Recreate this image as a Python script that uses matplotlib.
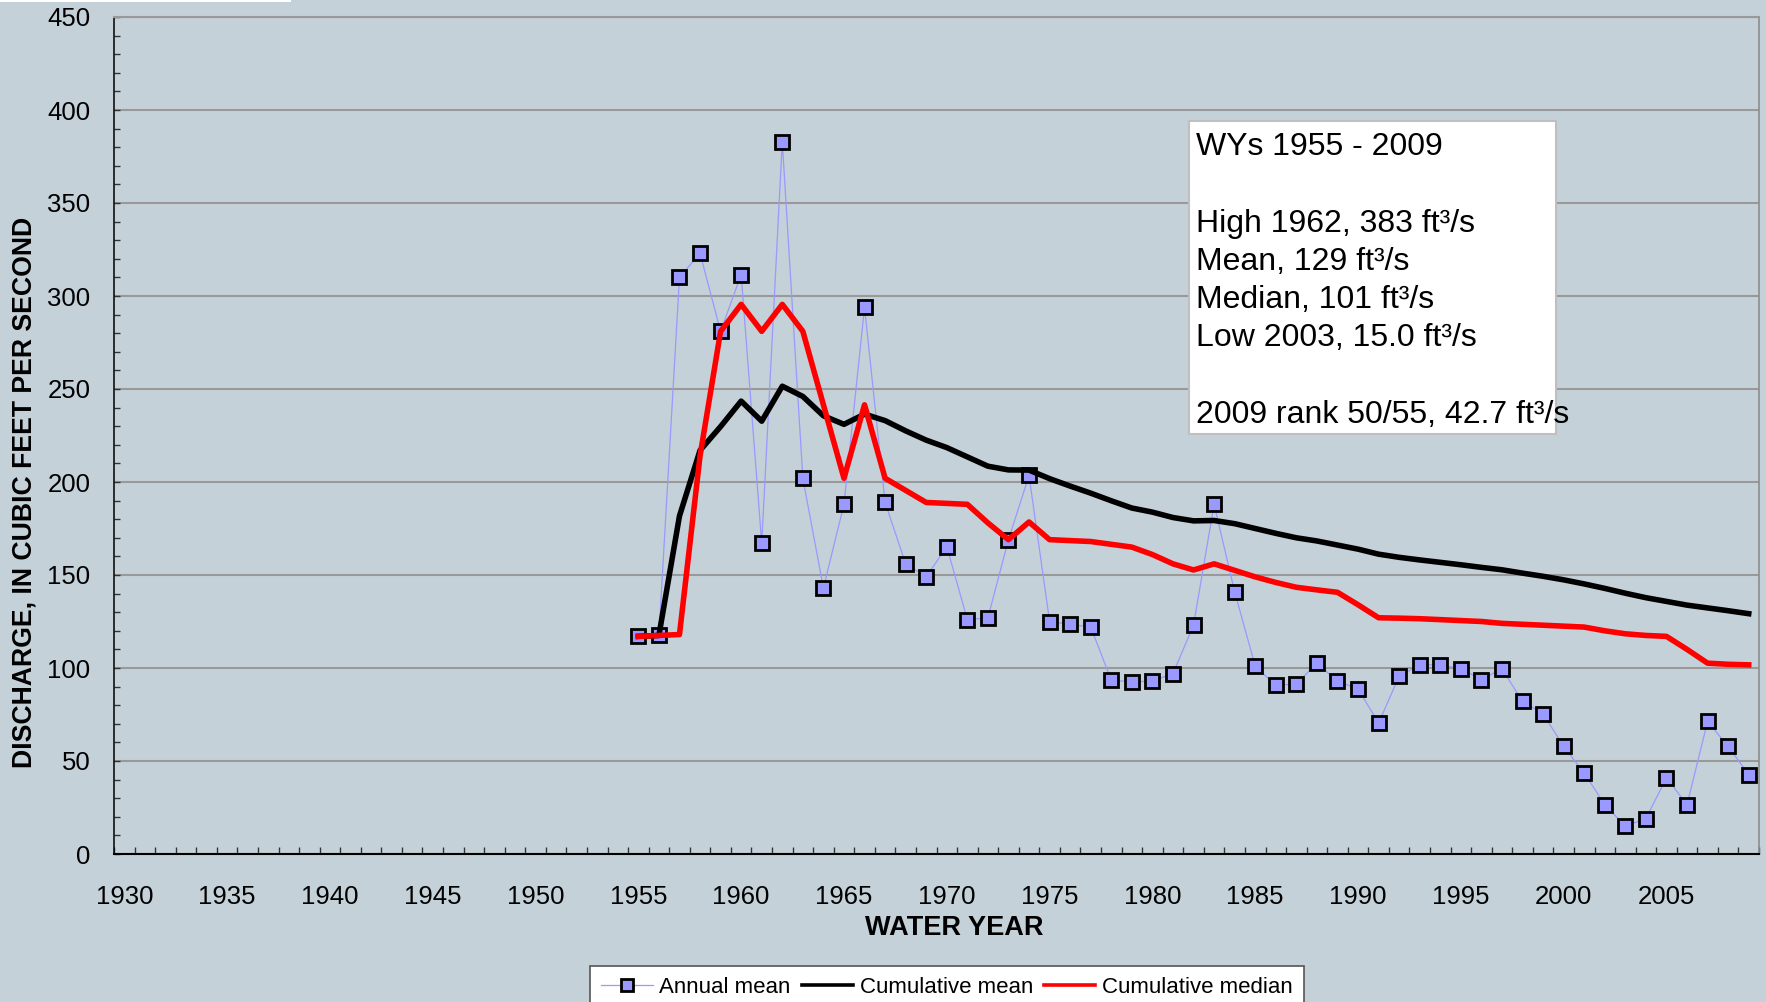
import numpy as np
import matplotlib.pyplot as plt
from matplotlib.patches import Rectangle
from matplotlib.ticker import MultipleLocator, FixedLocator

plt.rcParams['font.family'] = ['Liberation Sans', 'DejaVu Sans']

# water years and discharge values (ft3/s)
years = list(range(1955, 2010))
annual_mean = [117, 117.5, 310, 323, 281, 311.5, 167, 383, 202, 143,
               188, 294, 189, 156, 149, 165.3, 126, 127, 169, 203.5,
               125, 123.5, 122, 93.5, 92.5, 93, 97, 123, 188, 141,
               101, 90.6, 91.5, 102.6, 92.9, 88.8, 70.4, 95.6, 101.7, 101.7,
               99.6, 93.7, 99.6, 82, 75.4, 57.8, 43.5, 26.5, 15.0, 19,
               41, 26.5, 71.3, 57.8, 42.7]
cum_mean = [117, 117.5, 181.7, 217, 229.8, 243.5, 232.7, 251.5, 246, 235.6,
            231, 236.5, 233, 227.5, 222.5, 218.5, 213.5, 208.5, 206.5, 206.4,
            201.8, 197.8, 194, 189.9, 186, 183.8, 180.9, 179.1, 179.3, 177.6,
            175, 172.4, 170, 168.3, 166.1, 163.9, 161.2, 159.5, 158.1, 156.8,
            155.5, 154.1, 152.8, 151, 149.3, 147.4, 145.2, 142.8, 140.2, 137.8,
            135.8, 133.8, 132.3, 130.8, 129.2]
cum_median = [117, 117.5, 118, 214, 281, 295.5, 281, 295.5, 281, 241.5,
              202, 241.5, 202, 195.5, 189, 188.5, 188, 178, 169, 178.5,
              169, 168.5, 168, 166.5, 165, 161, 156, 152.7, 156, 152.5,
              149, 146, 143.4, 142, 140.7, 134, 127, 126.8, 126.5, 126,
              125.5, 125, 124, 123.5, 123, 122.5, 122, 120, 118.4, 117.5,
              117, 110, 102.6, 102, 101.7]

stats_lines = ["WYs 1955 - 2009", "", "High 1962, 383 ft\u00b3/s", "Mean, 129 ft\u00b3/s",
               "Median, 101 ft\u00b3/s", "Low 2003, 15.0 ft\u00b3/s", "",
               "2009 rank 50/55, 42.7 ft\u00b3/s"]

bg = '#C5D1D8'
W, H = 1766, 1002

fig = plt.figure(figsize=(W / 100, H / 100), dpi=100, facecolor=bg)
ax = fig.add_axes([114 / W, 1 - 854 / H, (1759 - 114) / W, (854 - 17) / H])
ax.set_facecolor(bg)

ax.plot(years, annual_mean, color='#9999FF', lw=0.9, marker='s', ms=9.5,
        mfc='#9999FF', mec='black', mew=2.0, label='Annual mean', zorder=3)
ax.plot(years, cum_mean, color='black', lw=4.0, label='Cumulative mean', zorder=4)
ax.plot(years, cum_median, color='#FF0000', lw=4.0, label='Cumulative median', zorder=5)

ax.set_xlim(1929.5, 2009.5)
ax.set_ylim(0, 450)

ax.xaxis.set_major_locator(MultipleLocator(5))
ax.xaxis.set_minor_locator(FixedLocator(np.arange(1929.5, 2010, 1)))
ax.yaxis.set_major_locator(MultipleLocator(50))
ax.yaxis.set_minor_locator(MultipleLocator(10))
ax.tick_params(axis='x', which='major', length=0, pad=22, labelsize=18.5)
ax.tick_params(axis='x', which='minor', direction='in', length=5.2, width=1, color='#333333')
ax.tick_params(axis='y', which='both', direction='in', length=4, width=1, color='#333333',
               pad=17, labelsize=18.5)

ax.grid(axis='y', which='major', color='#999999', lw=1.5)
ax.set_axisbelow(True)

ax.spines['left'].set_color('black')
ax.spines['left'].set_linewidth(1.1)
ax.spines['bottom'].set_color('black')
ax.spines['bottom'].set_linewidth(1.5)
ax.spines['top'].set_color('#999999')
ax.spines['top'].set_linewidth(1.5)
ax.spines['right'].set_color('#8C8C8C')
ax.spines['right'].set_linewidth(1.2)

fig.text(25 / W, 1 - 492 / H, 'DISCHARGE, IN CUBIC FEET PER SECOND', rotation=90,
         fontsize=19.2, fontweight='bold', ha='center', va='center')
fig.text(954.5 / W, 1 - 928 / H, 'WATER YEAR', fontsize=19.5, fontweight='bold',
         ha='center', va='center')

# stats box (text runs past the box edge, as in the original)
fig.add_artist(Rectangle((1189 / W, 1 - 434 / H), (1556 - 1189) / W, (434 - 121) / H,
                         transform=fig.transFigure, facecolor='white',
                         edgecolor='#BFBFBF', lw=1.5, zorder=1))
for i, line in enumerate(stats_lines):
    fig.text(1196 / W, 1 - (155 + i * 38.3) / H, line, fontsize=23,
             ha='left', va='baseline', zorder=3)

# white strip left over at the top edge
fig.add_artist(Rectangle((0, 1 - 2 / H), 291 / W, 2 / H, transform=fig.transFigure,
                         facecolor='white', lw=0, zorder=1))

handles, labels = ax.get_legend_handles_labels()
leg = fig.legend(handles, labels, loc='upper center', bbox_to_anchor=(947 / W, 1 - 966 / H),
                 ncol=3, fontsize=16, frameon=True, fancybox=False, edgecolor='#555555',
                 facecolor='white', framealpha=1, handlelength=2.3, handletextpad=0.3,
                 columnspacing=0.5, borderpad=0.5, borderaxespad=0, markerscale=0.85)
leg.get_frame().set_linewidth(1.2)
for ln in leg.get_lines()[1:]:
    ln.set_linewidth(2.6)

fig.savefig('out.png', dpi=100, facecolor=bg)
